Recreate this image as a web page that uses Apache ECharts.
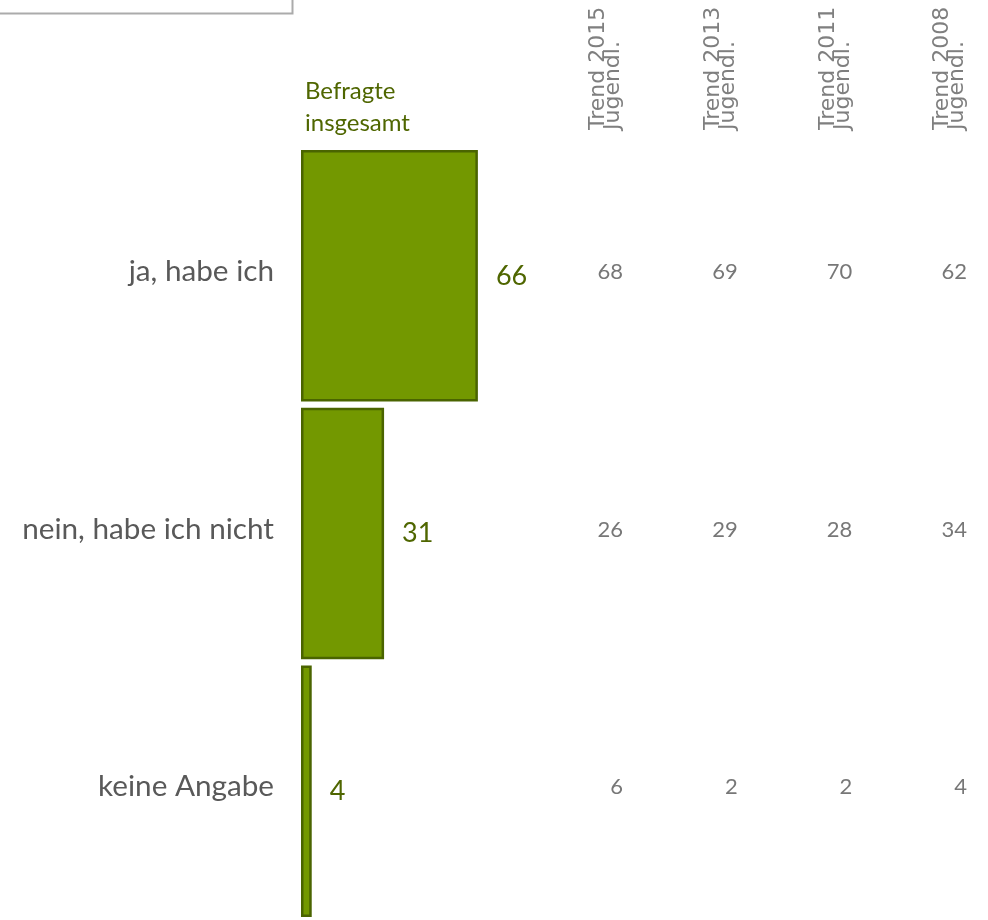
<!DOCTYPE html>
<html>
<head>
<meta charset="utf-8">
<script src="https://cdn.jsdelivr.net/npm/echarts@6/dist/echarts.min.js"></script>
<style>
html,body{margin:0;padding:0;background:#fff;}
#chart{width:988px;height:920px;}
</style>
</head>
<body>
<div id="chart"></div>
<script>
// Data
var categories = ['ja, habe ich', 'nein, habe ich nicht', 'keine Angabe'];
var totalValues = [66, 31, 4];
var totalLabel = 'Befragte\ninsgesamt';
var trendHeaders = ['Trend 2015\nJugendl.', 'Trend 2013\nJugendl.', 'Trend 2011\nJugendl.', 'Trend 2008\nJugendl.'];
var trend2015 = [68, 26, 6];
var trend2013 = [69, 29, 2];
var trend2011 = [70, 28, 2];
var trend2008 = [62, 34, 4];

var trendColumns = [trend2015, trend2013, trend2011, trend2008];
var trendData = [];
trendColumns.forEach(function (col, ci) {
  col.forEach(function (v, ri) { trendData.push([ci, ri, v]); });
});

var chart = echarts.init(document.getElementById('chart'), null, {renderer: 'canvas'});
var FONT = 'Lato';
chart.setOption({
  backgroundColor: '#ffffff',
  animation: false,
  title: {
    text: totalLabel,
    left: 305, top: 75, padding: 0,
    textStyle: {fontFamily: FONT, fontSize: 24, fontWeight: 'normal', color: '#4f6600', lineHeight: 32}
  },
  graphic: [{
    type: 'rect', left: -4, top: -20, silent: true,
    shape: {width: 294, height: 31},
    style: {fill: 'none', stroke: '#ababab', lineWidth: 2}
  }],
  grid: [
    {left: 301, top: 147, width: 268, height: 778},
    {left: 606, top: 147, width: 344, height: 778}
  ],
  xAxis: [
    {gridIndex: 0, type: 'value', min: 0, max: 100, show: false},
    {gridIndex: 1, type: 'category', data: trendHeaders, position: 'top', boundaryGap: false,
     axisLine: {show: false}, axisTick: {show: false}, splitLine: {show: false},
     axisLabel: {rotate: -90, margin: 17, interval: 0, fontFamily: 'DejaVu Sans', fontSize: 22, lineHeight: 15, color: '#7f7f7f'}}
  ],
  yAxis: [
    {gridIndex: 0, type: 'category', data: categories, inverse: true,
     axisLine: {show: false}, axisTick: {show: false}, splitLine: {show: false},
     axisLabel: {margin: 27, fontFamily: FONT, fontSize: 29.7, color: '#595959', lineHeight: 9, verticalAlign: 'bottom'}},
    {gridIndex: 1, type: 'category', data: categories, inverse: true, show: false}
  ],
  series: [
    {
      type: 'bar', xAxisIndex: 0, yAxisIndex: 0, data: totalValues,
      barCategoryGap: '2.4%',
      itemStyle: {color: '#739800', borderColor: '#4a6400', borderWidth: 2.5},
      label: {show: true, position: 'right', distance: 18, fontFamily: FONT, fontSize: 27, color: '#4f6600'}
    },
    {
      type: 'scatter', xAxisIndex: 1, yAxisIndex: 1, data: trendData,
      symbolSize: 2, itemStyle: {color: 'rgba(0,0,0,0)'},
      label: {show: true, position: 'inside', align: 'right', offset: [17, -4],
        formatter: function (p) { return String(p.value[2]); },
        fontFamily: FONT, fontSize: 22, color: '#555555'}
    }
  ]
});
</script>
</body>
</html>
